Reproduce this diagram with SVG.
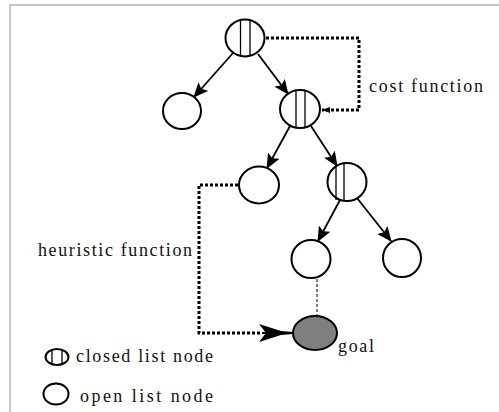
<svg xmlns="http://www.w3.org/2000/svg" width="499" height="412" viewBox="0 0 499 412">
  <style>
    .node { fill: #ffffff; stroke: #000000; stroke-width: 2; }
    .bar { stroke: #000000; stroke-width: 1.3; fill: none; }
    .edge { stroke: #000000; stroke-width: 1.8; fill: none; marker-end: url(#arrow); }
    .dots { stroke: #000000; stroke-width: 3; stroke-dasharray: 3 2; fill: none; }
    .label { font-family: "Liberation Serif", "DejaVu Serif", serif; font-size: 18px; fill: #111111; }
  </style>
  <defs>
    <marker id="arrow" viewBox="0 0 15 13" refX="14" refY="6.5" markerWidth="15" markerHeight="13" markerUnits="userSpaceOnUse" orient="auto">
      <path d="M0,0 L15,6.5 L0,13 L3,6.5 Z" fill="#000000"/>
    </marker>
    <marker id="bigarrow" viewBox="0 0 34 18" refX="34" refY="9" markerWidth="34" markerHeight="18" markerUnits="userSpaceOnUse" orient="auto">
      <path d="M0,0 L22,7 L34,8 L34,10 L22,11 L0,18 L7,9 Z" fill="#000000"/>
    </marker>
    <marker id="smallarrow" viewBox="0 0 8 8" refX="8" refY="4" markerWidth="8" markerHeight="8" markerUnits="userSpaceOnUse" orient="auto">
      <path d="M0,1 L8,4 L0,7 Z" fill="#000000"/>
    </marker>
  </defs>

  <!-- frame -->
  <path d="M10,412 L10,5 L499,5" fill="none" stroke="#b4b4b4" stroke-width="1.5"/>

  <!-- connectors -->
  <g id="connectors">
    <line class="edge" x1="233" y1="53" x2="194" y2="97"/>
    <line class="edge" x1="258" y1="54" x2="288" y2="94"/>
    <line class="edge" x1="290" y1="126" x2="267" y2="168"/>
    <line class="edge" x1="311" y1="126" x2="337" y2="166"/>
    <line class="edge" x1="340" y1="200" x2="318" y2="241"/>
    <line class="edge" x1="357" y1="198" x2="391" y2="241"/>
    <line x1="317" y1="279" x2="317" y2="316" stroke="#000000" stroke-width="1" stroke-dasharray="3 2"/>
    <!-- cost function link -->
    <path class="dots" d="M266,38 L359,38 L359,110 L322,110" marker-end="url(#smallarrow)"/>
    <!-- heuristic function link -->
    <path class="dots" d="M238,185 L199,185 L199,333 L262,333"/>
    <line x1="262" y1="333" x2="293" y2="333" stroke="#000000" stroke-width="2" marker-end="url(#bigarrow)"/>
  </g>

  <!-- tree nodes -->
  <g id="root">
    <ellipse class="node" cx="245" cy="38" rx="19.5" ry="18.5"/>
    <line class="bar" x1="240.5" y1="20" x2="240.5" y2="56"/>
    <line class="bar" x1="250" y1="20" x2="250" y2="56"/>
  </g>
  <g id="n1">
    <ellipse class="node" cx="182" cy="111" rx="19" ry="18"/>
  </g>
  <g id="n2">
    <ellipse class="node" cx="300" cy="109" rx="20" ry="19"/>
    <line class="bar" x1="296" y1="90" x2="296" y2="128"/>
    <line class="bar" x1="305" y1="90" x2="305" y2="128"/>
  </g>
  <g id="n3">
    <ellipse class="node" cx="259" cy="185" rx="20" ry="18.5"/>
  </g>
  <g id="n4">
    <ellipse class="node" cx="347" cy="182" rx="19.5" ry="19"/>
    <line class="bar" x1="336" y1="164" x2="336" y2="200"/>
    <line class="bar" x1="344" y1="163" x2="344" y2="201"/>
  </g>
  <g id="n5">
    <ellipse class="node" cx="311" cy="259" rx="19.5" ry="19"/>
  </g>
  <g id="n6">
    <ellipse class="node" cx="402" cy="258" rx="19" ry="19"/>
  </g>
  <g id="goal">
    <ellipse cx="315" cy="333" rx="22" ry="17" fill="#7f7f7f" stroke="#000000" stroke-width="2"/>
    <text class="label" x="338" y="352" textLength="36" lengthAdjust="spacing">goal</text>
  </g>

  <!-- annotations -->
  <text class="label" x="369" y="92" textLength="114" lengthAdjust="spacing">cost function</text>
  <text class="label" x="38" y="256" textLength="154" lengthAdjust="spacing">heuristic function</text>

  <!-- legend -->
  <g id="legend-closed">
    <ellipse class="node" cx="57" cy="357" rx="11.5" ry="8" stroke-width="1.8"/>
    <line class="bar" x1="52" y1="349.5" x2="52" y2="364.5"/>
    <line class="bar" x1="62" y1="349.5" x2="62" y2="364.5"/>
    <text class="label" x="76" y="362" textLength="137" lengthAdjust="spacing">closed list node</text>
  </g>
  <g id="legend-open">
    <ellipse class="node" cx="56" cy="394" rx="12.5" ry="10.5" stroke-width="1.8"/>
    <text class="label" x="80" y="402" textLength="133" lengthAdjust="spacing">open list node</text>
  </g>
</svg>
